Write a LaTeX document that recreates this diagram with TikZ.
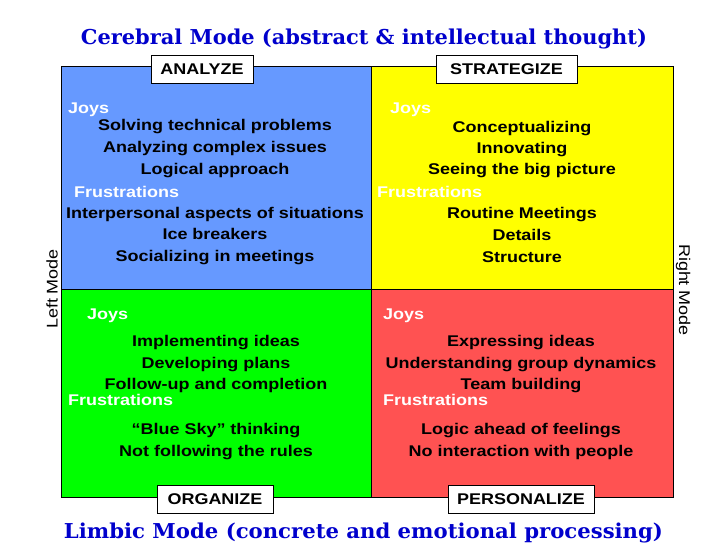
\documentclass[tikz,border=0pt]{standalone}
\usepackage{fontspec}
\usepackage{graphicx}
\newfontfamily\bodyfont[FakeStretch=1.16]{Liberation Sans}
\newfontfamily\titlefont{DejaVu Serif}
\definecolor{qblue}{RGB}{102,153,255}
\definecolor{qyellow}{RGB}{255,255,0}
\definecolor{qgreen}{RGB}{0,255,0}
\definecolor{qred}{RGB}{255,82,82}
\definecolor{titleblue}{RGB}{0,0,204}
\tikzset{
  item/.style={font=\bodyfont\bfseries\fontsize{15.5}{18}\selectfont, anchor=base, inner sep=0pt, text=black},
  head/.style={item, text=white, anchor=base west},
  tag/.style={draw=black, fill=white, line width=0.8pt, font=\bodyfont\bfseries\fontsize{15.5}{18}\selectfont, minimum height=28pt, inner sep=0pt, anchor=center},
  titletext/.style={font=\titlefont\bfseries\fontsize{20.5}{24}\selectfont, text=titleblue, anchor=base, inner sep=0pt},
  side/.style={font=\bodyfont\fontsize{15.5}{18}\selectfont, inner sep=0pt, anchor=center}
}
\begin{document}
\begin{tikzpicture}[x=1pt,y=-1pt]
\useasboundingbox[fill=white] (0,0) rectangle (728,546);
% quadrants
\fill[qblue] (61,66) rectangle (371,289);
\fill[qyellow] (371,66) rectangle (673,289);
\fill[qgreen] (61,289) rectangle (371,497);
\fill[qred] (371,289) rectangle (673,497);
\draw[line width=0.9pt] (61,66) rectangle (673,497);
\draw[line width=0.9pt] (371,66) -- (371,497);
\draw[line width=0.9pt] (61,289) -- (673,289);
% titles
\node[titletext] (ttop) at (364,44) {\resizebox{566pt}{\height}{Cerebral Mode (abstract \& intellectual thought)}};
\node[titletext] (tbot) at (363.5,538) {\resizebox{599pt}{\height}{Limbic Mode (concrete and emotional processing)}};
% side labels
\node[side, rotate=90] (lmode) at (52,289) {Left Mode};
\node[side, rotate=-90] (rmode) at (683,290) {Right Mode};
% tags
\node[tag, minimum width=102pt] (analyze) at (202,69) {ANALYZE};
\node[tag, minimum width=141pt] (strategize) at (506.5,69) {STRATEGIZE};
\node[tag, minimum width=116pt] (organize) at (215,499.5) {ORGANIZE};
\node[tag, minimum width=146pt] (personalize) at (521,499.5) {PERSONALIZE};
% top-left
\node[head] (tlj) at (68,113) {Joys};
\node[item] (tl1) at (215,130) {Solving technical problems};
\node[item] (tl2) at (215,152) {Analyzing complex issues};
\node[item] (tl3) at (215,174) {Logical approach};
\node[head] (tlf) at (74,197) {Frustrations};
\node[item] (tl4) at (215,218) {Interpersonal aspects of situations};
\node[item] (tl5) at (215,239) {Ice breakers};
\node[item] (tl6) at (215,261) {Socializing in meetings};
% top-right
\node[head] (trj) at (390,113) {Joys};
\node[item] (tr1) at (522,132) {Conceptualizing};
\node[item] (tr2) at (522,153) {Innovating};
\node[item] (tr3) at (522,174) {Seeing the big picture};
\node[head] (trf) at (377,197) {Frustrations};
\node[item] (tr4) at (522,218) {Routine Meetings};
\node[item] (tr5) at (522,240) {Details};
\node[item] (tr6) at (522,262) {Structure};
% bottom-left
\node[head] (blj) at (87,319) {Joys};
\node[item] (bl1) at (216,346) {Implementing ideas};
\node[item] (bl2) at (216,368) {Developing plans};
\node[item] (bl3) at (216,389) {Follow-up and completion};
\node[head] (blf) at (68,405) {Frustrations};
\node[item] (bl4) at (216,434) {“Blue Sky” thinking};
\node[item] (bl5) at (216,456) {Not following the rules};
% bottom-right
\node[head] (brj) at (383,319) {Joys};
\node[item] (br1) at (521,346) {Expressing ideas};
\node[item] (br2) at (521,368) {Understanding group dynamics};
\node[item] (br3) at (521,389) {Team building};
\node[head] (brf) at (383,405) {Frustrations};
\node[item] (br4) at (521,434) {Logic ahead of feelings};
\node[item] (br5) at (521,456) {No interaction with people};
\end{tikzpicture}
\end{document}
